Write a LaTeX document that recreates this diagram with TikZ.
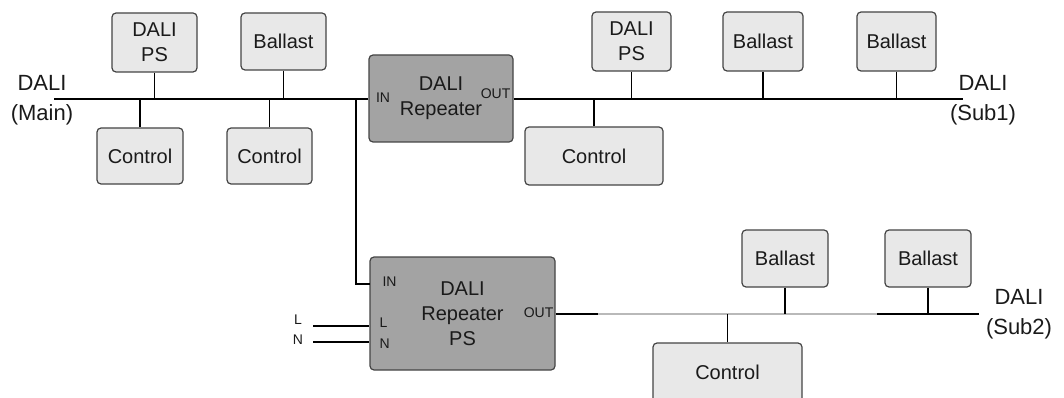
\documentclass[tikz,border=0pt]{standalone}
\usepackage{fontspec}
\setmainfont{Liberation Sans}
\usepackage{tikz}
\usetikzlibrary{calc}
\usepackage{xcolor}
\definecolor{boxfill}{HTML}{E8E8E8}
\definecolor{repfill}{HTML}{A3A3A3}
\definecolor{boxline}{HTML}{444444}
\definecolor{txt}{HTML}{1A1A1A}

\begin{document}
\begin{tikzpicture}[x=1pt, y=-1pt, line width=1.2pt,
  box/.style={draw=boxline, fill=boxfill, rounded corners=4pt, inner sep=0pt,
    align=center, text=txt, font=\fontsize{20}{25}\selectfont},
  repbox/.style={box, fill=repfill},
  port/.style={inner sep=0pt, text=txt, font=\fontsize{14}{16}\selectfont},
  buslabel/.style={inner sep=0pt, align=center, text=txt, font=\fontsize{22}{30}\selectfont}]
  \useasboundingbox (0,0) rectangle (1064,398);

  % DALI main
  \node[box, minimum width=85, minimum height=59] (ps1) at (154.5,42.5) {DALI\\PS};
  \node[box, minimum width=85, minimum height=57] (bal1) at (283.5,41.5) {Ballast};
  \node[box, minimum width=86, minimum height=56] (ctl1) at (140,156) {Control};
  \node[box, minimum width=85, minimum height=56] (ctl2) at (269.5,156) {Control};
  \node[buslabel] (lmain) at (42,100) {DALI\\(Main)};
  \coordinate (mainL) at (54,99);
  \coordinate (tap) at (356,99);

  % repeater
  \node[repbox, minimum width=144, minimum height=87] (rep) at (441,98.5) {DALI\\Repeater};
  \node[port, anchor=west] (rin) at (375.5,98) {IN};
  \node[port, anchor=east] (rout) at (511,94) {OUT};

  % DALI sub1
  \node[box, minimum width=79, minimum height=59] (ps2) at (631.5,41.5) {DALI\\PS};
  \node[box, minimum width=80, minimum height=59] (bal3) at (763,41.5) {Ballast};
  \node[box, minimum width=79, minimum height=59] (bal4) at (896.5,41.5) {Ballast};
  \node[box, minimum width=138, minimum height=58] (ctl3) at (594,156) {Control};
  \node[buslabel] (lsub1) at (983,100) {DALI\\(Sub1)};
  \coordinate (sub1R) at (963,99);

  % repeater PS
  \node[repbox, minimum width=185, minimum height=113] (reps) at (462.5,313.5) {DALI\\Repeater\\PS};
  \node[port, anchor=west] (psin) at (382,282) {IN};
  \node[port, anchor=west] (psl) at (379,323) {L};
  \node[port, anchor=west] (psn) at (379,344) {N};
  \node[port, anchor=east] (psout) at (554,313) {OUT};
  \node[port] (lin) at (298,320) {L};
  \node[port] (nin) at (298,340) {N};
  \coordinate (inPS) at (370,284);
  \coordinate (Lw) at (313,326);
  \coordinate (Nw) at (313,342);

  % DALI sub2
  \node[box, minimum width=86, minimum height=57] (bal5) at (785,258.5) {Ballast};
  \node[box, minimum width=86, minimum height=57] (bal6) at (928,258.5) {Ballast};
  \node[box, minimum width=149, minimum height=66, text depth=8pt] (ctl4) at (727.5,376) {Control};
  \node[buslabel] (lsub2) at (1019,314) {DALI\\(Sub2)};
  \coordinate (sub2R) at (979,314);
  \coordinate (g1) at (598,314);
  \coordinate (g2) at (877,314);

  % busses
  \draw (mainL) -- (mainL -| rep.west);
  \draw (tap) |- (inPS);
  \draw (rep.east |- sub1R) -- (sub1R);
  \draw (reps.east |- sub2R) -- (sub2R);
  \draw[gray!55, line width=1.5pt] (g1) -- (g2);
  \draw (Lw) -- (Lw -| reps.west);
  \draw (Nw) -- (Nw -| reps.west);

  % drops
  \foreach \n in {ps1,bal1,ctl1,ctl2}
    \draw (\n) -- (\n |- mainL);
  \foreach \n in {ps2,bal3,bal4,ctl3}
    \draw (\n) -- (\n |- sub1R);
  \foreach \n in {bal5,bal6,ctl4}
    \draw (\n) -- (\n |- sub2R);
\end{tikzpicture}
\end{document}
